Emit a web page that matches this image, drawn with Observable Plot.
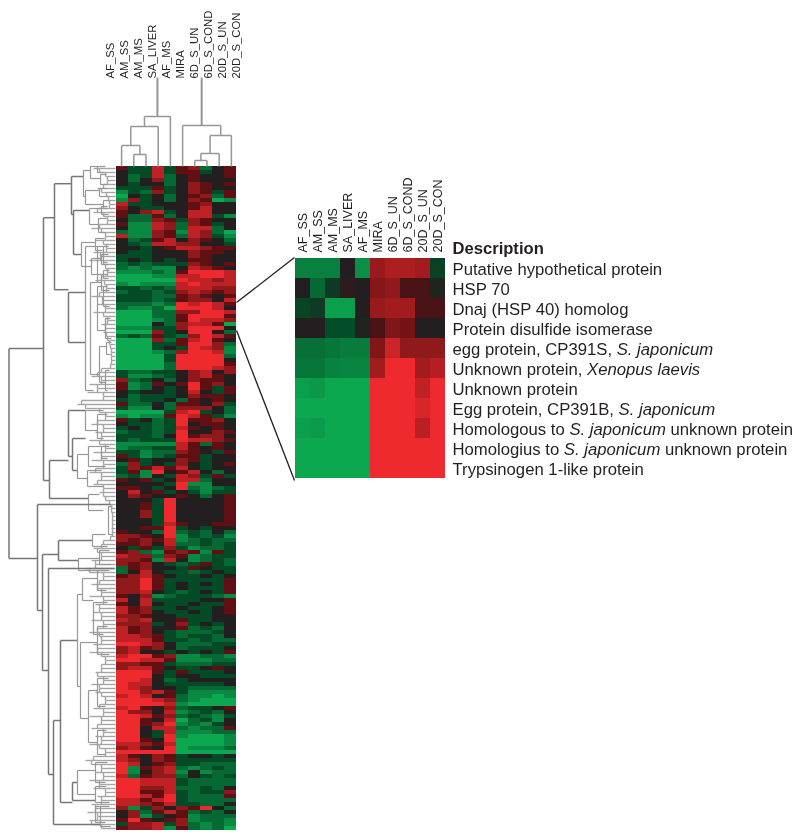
<!DOCTYPE html>
<html><head><meta charset="utf-8">
<script src="https://cdn.jsdelivr.net/npm/d3@7"></script>
<script src="https://cdn.jsdelivr.net/npm/@observablehq/plot@0.6"></script>
<style>
html,body{margin:0;padding:0;background:#fff}
#fig{position:relative;width:800px;height:838px;overflow:hidden;font-family:"Liberation Sans",Arial,sans-serif}
#fig svg{position:absolute;overflow:visible;background:transparent}
</style></head><body><div id="fig"></div>
<script>
const samples = ["AF_SS","AM_SS","AM_MS","SA_LIVER","AF_MS","MIRA","6D_S_UN","6D_S_COND","20D_S_UN","20D_S_CON"];

// expression per row: a = strongest green, e = no change, i = strongest red
const heatRows = [
"fddhdfgcef","eddhdffdef","ecdhcefeef","ecegcefeee","edeecegfef","dddfdegfee","bdcgdegfdf","aedecefgcf","bgdecegfab","hddeeefgee",
"geddeefhee","feghdehhee","fccfcehhdb","eccgfdgfee","fbbhgcgfde","ebbhgchhce","cbbgfbhgca","hbbgfchgdb","ecdfhegfec","edchhggeed",
"eedefhhgff","eddeeegffe","dddeeegfee","dededeffee","cdcdddgfef","cbcbbehgfe","bbbcbfiiih","aaabbhhiih","aaaaaihhgh","babbbhihhh",
"ddcdchhhgg","cddcdghgfg","dddccfgfef","dddcdfggeh","cccbcihihf","cbbcaiiihe","aaaccggiih","aaaccfiiif","aaabcfihhg","aaaecghhfa","bbbddgiiie",
"aaagdeiiec","cdcfdcgihf","aaagcfhife","aaaddfiigc","aaadedihgb","aaabcgiihb","aaaadiiiic","aaaadiiiie","aaaaciiiif","aaaaciiihg",
"dccddegheg","dbbcdeghfe","gcdecegffe","fbcfefifge","fbcedeifdf","edeedehedf","ecdddegffe","dcddecfefe","fccecffegd","dbbecgggec",
"aaaadhidec","babbfihfdb","fdecdiffge","eddcdieffe","dedcdhfefe","cddcdieegf","dddceifgge","dcdddihhgf","bbbbbhfcfe","bccddhfefe",
"ddbccgfedf","fdbcdffdee","efdeegfdee","cgdedgedef","dgfhfhedee","dfbiefhece","cdbedhgdfd","fefdehhcee","eeeedibbee","ffedeicbcd","ehefdedbdd","egfeefecef",
"eeedieeeef","eefdieeeef","eefdieeeef","eegdieeeef","eegdieeeef","eeedieeeef","eeedhfeeff","eeffidedee","feecicdcec","ggfeibdcdb",
"gfgfhbcdcc","ffgehccdcd","edfdgdbccd","fgcbfgfbfd","hggcgfbcdd","ggfbhebcdc","gfgedcdfdc","cfgeedfedd","ceheddcded","fghfeddede",
"ggifdddddf","ggifdededf","ggifdedddf","gghedcdedf","fegbcdddcb","hehddddeef","feheddeddf","hfgddeddef","hfgeddedef","ggfeedddee",
"hgheefddee","gggdegdede","hfgeefcdce","hfgedcccde","hhgfdcddce","hhhfddcdcc","iihgecccdd","ghfgecddde","gheedededf","hiifgbbccb","iihhfbbbcc","ggffdcccdd",
"ghhfeddefe","iiifdfddde","iiiedeeddd","iihecdeeee","ihheddddde","ihgeedcccc","iighfdbbbb","hihefcbbab","iiihgcbaaa","iiiihbaaaa",
"hifegcddef","iggehbcdce","iihfgcdcbd","iifehacdbe","iifgibcbde","iiehhcbccf","iiedhbbbcc","iiedibaaab","iifeiaaaab","hhgfhaaaab",
"ghfeiabbbc","iiiiiaaaaa","hfegfdeede","hgegfddddd","ihefgddccc","ibfghcbcdc","ibeghbebcc","hcfggcedcd","iihhhdcccc","iihhhdcccc",
"iigghccdce","iiffhdcddg","iihfidcccf","hhfhidcccc","hhgfhddcce","gbdgegfiec","egcfhfcdce","egbdefbccc","fifefgbccb","dgghdgcbcb","fgghbfcbca"
];

// column tree: [child, child, height]; ids 0-9 are samples, ids from 10 are earlier merges
const columnMerges = [
[1,2,12],[0,10,21],[11,3,40],[12,4,50],
[6,7,6],[14,8,13],[15,9,31],[5,16,41]
];
const columnRootTop = 89;

// row tree: [merge distance, upper row, lower row, upper child distance, lower child distance]
const rowTree = [
[106.5,45.5,98,72,78],[72,12.8,78.5,61,66],[61,4.3,30.8,44,47],[44,2.5,12,32,42],
[32,1,7.5,25,30],[25,0,3,18,15],[18,0,1.5,10,12],[15,2,4.5,9,8],[30,6,9.5,16,12],[16,5.5,7.5,8,7],[12,8.5,10.5,6,8],
[42,11,22,26,34],[26,10.5,14.5,14,17],[14,10,12,8,7],[17,13,16.5,9,10],[34,19,25,20,24],[20,18,21,11,13],[24,23,27,14,12],[14,22,24.5,7,6],[12,26,28,6,7],
[47,31.5,44,30,30],[30,20,56,18,22],[18,20,29,12,14],[12,20,24,7,8],[14,27,31,8,6],
[25,29,52,18,16],[18,30,41,12,10],[12,30,35,8,6],[10,38,43,5,4],[16,45,54,9,10],[9,44,47,4,5],[10,51,56,6,8],
[66,73.5,83,47,27],[47,61,72.5,30,43],[43,68,76,30,38],[38,72,78,27,28],[30,61,66,12,18],[18,62,68,8,12],[27,70,75,14,10],[28,76,80,14,12],[14,70,73,6,8],[27,82,86,16,12],
[78,84.5,111,5,73],[73,97,126,57,67],[57,93.5,98.5,23,37],[23,92,95,10,8],[37,98,101,16,10],[16,96,99.5,6,5],[7,85,92,3,3],
[67,100.5,152,1,62],[62,138.5,164.5,55,15],[55,118.5,159,38,43],[38,107,130,33,35],[33,103,108.5,18,22],[22,109,117,8,12],[18,101,106,6,9],
[35,119,138,18,27],[27,131,144,18,18],[18,128,135,7,10],[18,141,147,9,10],[18,115,122,8,6],
[43,154,158.5,38,20],[38,151,157,20,20],[20,149,154,8,10],[20,155,159,9,6],[15,160,165,6,5],[20,160,164,14,10]
];

// distance of each row's own leaf line
const leafDepth = [
22,16,10,8,12,18,14,9,7,6,18,22,12,8,16,24,14,10,20,12,9,22,15,26,12,10,8,14,20,11,9,16,24,13,18,10,22,12,8,14,10,
12,9,8,6,5,4,4,4,5,14,18,24,14,26,18,28,12,34,38,30,16,10,18,24,12,20,14,26,16,10,22,14,24,12,20,26,14,18,22,12,16,12,
10,6,4,4,3,3,3,4,3,5,12,14,22,18,14,24,20,30,26,12,16,24,18,14,26,12,20,16,22,14,24,12,18,26,16,14,22,18,26,14,10,14,
14,20,18,12,24,16,20,14,10,16,22,12,26,14,18,24,12,20,14,26,16,10,22,30,24,14,20,12,26,16,22,10,18,14,24,20,28,18,26,24,14
];

const descriptions = [
"Putative hypothetical protein","HSP 70","Dnaj (HSP 40) homolog","Protein disulfide isomerase",
"egg protein, CP391S, S. japonicum","Unknown protein, Xenopus laevis","Unknown protein",
"Egg protein, CP391B, S. japonicum","Homologous to S. japonicum unknown protein",
"Homologius to S. japonicum unknown protein","Trypsinogen 1-like protein"
];
const descriptionHeader = "Description";
const italicNames = ["S. japonicum","Xenopus laevis"];

// inset expression, one row per description, -1 green to 1 red
const insetValues = [
[-.68,-.68,-.68,.0,-.8,.55,.66,.66,.6,-.2],
[.0,-.5,-.15,.03,.0,.45,.5,.15,.15,-.03],
[-.22,-.16,-.92,-.92,.0,.55,.6,.6,.15,.15],
[.0,.0,-.28,-.28,-.03,.15,.42,.35,.0,.0],
[-.55,-.55,-.6,-.65,-.65,.42,.82,.5,.5,.5],
[-.6,-.6,-.7,-.72,-.72,.6,1,1,.6,.7],
[-.92,-.88,-1,-1,-1,1,1,1,.75,1],
[-1,-1,-1,-1,-1,1,1,1,.88,1],
[-.92,-.9,-1,-1,-1,1,1,1,.72,1],
[-1,-1,-1,-1,-1,1,1,1,1,1],
[-1,-1,-1,-1,-1,1,1,1,1,1]
];

// heat-map rows that the inset enlarges and the inset rows they lead to
const guideRows = [[34,22.75],[41,78.5]];

const heatColor = {type:"linear",domain:[-1,-.25,0,.2,1],range:["#0ca84f","#034a26","#231f20","#560e10","#ee2a2e"]};
const ink = "#231f20";
const treeGrey = "#969696";
const fig = document.getElementById("fig");
function place(svg,left,top,blur){
  svg.style.left = left+"px"; svg.style.top = top+"px";
  if(blur) svg.style.filter = `blur(${blur}px)`;
  fig.appendChild(svg);
}

// main heat map
const heatCells = heatRows.flatMap((r,row)=>samples.map((s,c)=>({sample:s,row,v:(r.charCodeAt(c)-101)/4})));
place(Plot.plot({
  width:122,height:664,margin:0,
  x:{type:"band",domain:samples,padding:0,axis:null},
  y:{type:"band",domain:d3.range(heatRows.length),padding:0,axis:null},
  color:heatColor,
  marks:[Plot.cell(heatCells,{x:"sample",y:"row",fill:"v"})]
}),115,166,.7);

// column dendrogram
const nodePos = samples.map((_,i)=>i+.5), nodeHeight = samples.map(()=>0), colSegs=[];
columnMerges.forEach(([a,b,h])=>{
  colSegs.push({x1:nodePos[a],y1:nodeHeight[a],x2:nodePos[a],y2:h},{x1:nodePos[a],y1:h,x2:nodePos[b],y2:h},{x1:nodePos[b],y1:h,x2:nodePos[b],y2:nodeHeight[b]});
  nodePos.push((nodePos[a]+nodePos[b])/2); nodeHeight.push(h);
});
const colRoots = [13,17].map(id=>({x1:nodePos[id],y1:nodeHeight[id],x2:nodePos[id],y2:columnRootTop}));
place(Plot.plot({
  width:122,height:166,margin:0,
  x:{domain:[0,10],axis:null},y:{domain:[0,166],axis:null},
  marks:[
    Plot.link(colSegs,{x1:"x1",y1:"y1",x2:"x2",y2:"y2",stroke:treeGrey,strokeWidth:1.5}),
    Plot.link(colRoots,{x1:"x1",y1:"y1",x2:"x2",y2:"y2",stroke:treeGrey,strokeWidth:2})
  ]
}),115,0,.4);

// column labels, more widely spaced than the columns
place(Plot.plot({
  width:160,height:78,margin:0,
  x:{type:"point",domain:samples,range:[10,141],padding:0,axis:null},
  marks:[Plot.text(samples,{x:d=>d,frameAnchor:"bottom",rotate:-90,textAnchor:"start",fontSize:11.3,fill:ink,fontFamily:"Liberation Sans"})]
}),100,0,.3);

// row dendrogram
const rowSegs = rowTree.flatMap(([d,t,b,dt,db])=>[
  {d,x1:d,y1:t,x2:d,y2:b},{d,x1:d,y1:t,x2:dt,y2:t},{d,x1:d,y1:b,x2:db,y2:b}
]);
const leafSegs = leafDepth.flatMap((d,i)=>{
  const out=[{x1:0,y1:i+.5,x2:d,y2:i+.5}];
  if(i+1<leafDepth.length){const m=Math.min(d,leafDepth[i+1]);out.push({x1:m,y1:i+.5,x2:m,y2:i+1.5});}
  return out;
});
place(Plot.plot({
  width:115,height:664,margin:0,
  x:{domain:[115,0],axis:null},y:{domain:[0,166],range:[0,664],axis:null},
  marks:[
    Plot.link(leafSegs,{x1:"x1",y1:"y1",x2:"x2",y2:"y2",stroke:"#a6a6a6",strokeWidth:1.4}),
    Plot.link(rowSegs,{x1:"x1",y1:"y1",x2:"x2",y2:"y2",stroke:d=>d.d>40?"#767676":"#979797",strokeWidth:d=>d.d>40?1.5:1.2})
  ]
}),0,166,.45);

// guide lines from the heat map to the inset
place(Plot.plot({
  width:58,height:664,margin:0,
  x:{domain:[0,1],axis:null},y:{domain:[0,166],range:[0,664],axis:null},
  marks:[Plot.link(guideRows,{x1:()=>0,y1:d=>d[0],x2:()=>1,y2:d=>d[1],stroke:ink,strokeWidth:1.3})]
}),236,166,.25);

// inset
const insetCells = descriptions.flatMap((desc,r)=>samples.map((s,c)=>({sample:s,desc,v:insetValues[r][c]})));
const inset = Plot.plot({
  width:505,height:319,marginLeft:0,marginRight:355,marginTop:66,marginBottom:10,
  x:{type:"band",domain:samples,padding:0,axis:null},
  y:{type:"band",domain:[descriptionHeader,...descriptions],padding:0,axis:null},
  color:heatColor,
  marks:[
    Plot.cell(insetCells,{x:"sample",y:"desc",fill:"v"}),
    Plot.text(samples,{x:d=>d,y:()=>descriptionHeader,rotate:-90,textAnchor:"start",dy:4,fontSize:12.5,fill:ink,fontFamily:"Liberation Sans"}),
    Plot.text([descriptionHeader],{frameAnchor:"right",y:d=>d,textAnchor:"start",dx:7,dy:0,fontSize:16.6,fontWeight:"bold",fill:ink,fontFamily:"Liberation Sans"}),
    Plot.text(descriptions,{frameAnchor:"right",y:d=>d,textAnchor:"start",dx:7,dy:1,fontSize:16.7,fill:ink,fontFamily:"Liberation Sans"})
  ]
});
d3.select(inset).selectAll("text").each(function(){
  const t=this.textContent, name=italicNames.find(n=>t.includes(n));
  if(!name) return;
  const [before,after]=t.split(name), sel=d3.select(this);
  sel.text(null);
  sel.append("tspan").text(before);
  sel.append("tspan").attr("font-style","italic").text(name);
  if(after) sel.append("tspan").text(after);
});
place(inset,295,170,.3);
</script></body></html>
